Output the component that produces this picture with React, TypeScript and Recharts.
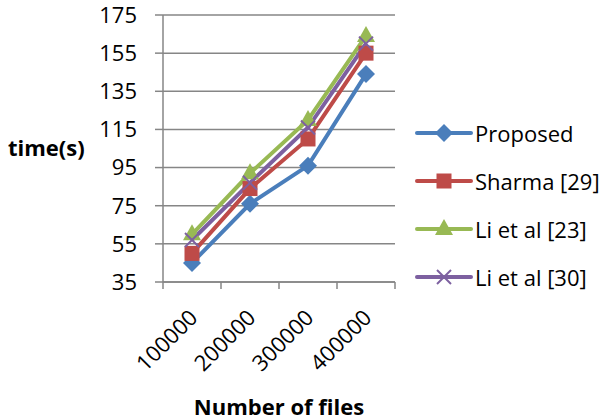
import React from 'react';
import {
  LineChart, Line, XAxis, YAxis, CartesianGrid,
} from 'recharts';

const fileCounts = [100000, 200000, 300000, 400000];
const proposed = [45, 76, 96, 144];
const sharma = [50, 84, 110, 155];
const liEtAl23 = [60, 92, 120, 164];
const liEtAl30 = [57, 87, 116, 160];

const yTicks = [35, 55, 75, 95, 115, 135, 155, 175];
// category boundaries sit halfway between the file counts
const xTicks = [50000, 100000, 150000, 200000, 250000, 300000, 350000, 400000, 450000];

const series = [
  { key: 'proposed', name: 'Proposed', color: '#4A7EBB', shape: 'diamond' },
  { key: 'sharma', name: 'Sharma [29]', color: '#BE4B48', shape: 'square' },
  { key: 'li23', name: 'Li et al [23]', color: '#98B954', shape: 'triangle' },
  { key: 'li30', name: 'Li et al [30]', color: '#7D60A0', shape: 'cross' },
];

const data = fileCounts.map((files, i) => ({
  files,
  proposed: proposed[i],
  sharma: sharma[i],
  li23: liEtAl23[i],
  li30: liEtAl30[i],
}));

const FONT = '"Open Sans", sans-serif';
const FONT_SIZE = 22;
const AXIS = '#868686';

function Marker({ cx, cy, shape, color }: { cx: number; cy: number; shape: string; color: string }) {
  if (shape === 'diamond') {
    return <polygon points={`${cx},${cy - 9} ${cx + 9},${cy} ${cx},${cy + 9} ${cx - 9},${cy}`} fill={color} />;
  }
  if (shape === 'square') {
    return <rect x={cx - 7.5} y={cy - 7.5} width={15} height={15} fill={color} />;
  }
  if (shape === 'triangle') {
    return <polygon points={`${cx},${cy - 10} ${cx + 9},${cy + 6} ${cx - 9},${cy + 6}`} fill={color} />;
  }
  return (
    <g stroke={color} strokeWidth={2}>
      <line x1={cx - 7} y1={cy - 7} x2={cx + 7} y2={cy + 7} />
      <line x1={cx - 7} y1={cy + 7} x2={cx + 7} y2={cy - 7} />
    </g>
  );
}

function FileTick({ x, y, payload }: any) {
  const v = payload.value;
  if (v % 100000 !== 0) {
    return <line x1={x} x2={x} y1={y} y2={y + 7} stroke={AXIS} strokeWidth={1.5} />;
  }
  const tx = x + 7;
  const ty = y + 37;
  return (
    <text x={tx} y={ty} transform={`rotate(-45 ${tx} ${ty})`} textAnchor="end"
      fontFamily={FONT} fontSize={FONT_SIZE} fill="#000">
      {v}
    </text>
  );
}

function SeriesLegend() {
  return (
    <div style={{ position: 'absolute', left: 414, top: 109, fontFamily: FONT, fontSize: FONT_SIZE, color: '#000' }}>
      {series.map((s) => (
        <div key={s.key} style={{ display: 'flex', alignItems: 'center', height: 48 }}>
          <svg width={60} height={24}>
            <line x1={3} x2={57} y1={12} y2={12} stroke={s.color} strokeWidth={4} strokeLinecap="round" />
            <Marker cx={30} cy={12} shape={s.shape} color={s.color} />
          </svg>
          <span style={{ marginLeft: 1, whiteSpace: 'nowrap' }}>{s.name}</span>
        </div>
      ))}
    </div>
  );
}

export default function App() {
  return (
    <div style={{ position: 'absolute', left: 0, top: 0, width: 608, height: 420, background: '#fff' }}>
      <LineChart width={608} height={420} data={data}
        margin={{ top: 15, right: 213, bottom: 0, left: 0 }}>
        <CartesianGrid vertical={false} stroke={AXIS} strokeWidth={1.5} />
        <XAxis dataKey="files" type="number" domain={[50000, 450000]} ticks={xTicks} interval={0}
          height={138} tickLine={false} tickSize={0} tickMargin={0} tick={<FileTick />}
          axisLine={{ stroke: AXIS, strokeWidth: 1.5 }}
          label={{ value: 'Number of files', position: 'insideBottom', offset: 5, fontFamily: FONT, fontSize: FONT_SIZE, fontWeight: 700, fill: '#000' }} />
        <YAxis domain={[35, 175]} ticks={yTicks} interval={0} width={163}
          tickSize={8} tickMargin={18} tickLine={{ stroke: AXIS, strokeWidth: 1.5 }}
          axisLine={{ stroke: AXIS, strokeWidth: 1.5 }}
          tick={{ fontFamily: FONT, fontSize: FONT_SIZE, fill: '#000' }}
          label={{ value: 'time(s)', position: 'insideLeft', offset: 8, fontFamily: FONT, fontSize: FONT_SIZE, fontWeight: 700, fill: '#000' }} />
        {series.map((s) => (
          <Line key={s.key} dataKey={s.key} name={s.name} stroke={s.color} strokeWidth={4}
            isAnimationActive={false}
            dot={(p: any) => <Marker key={`${s.key}-${p.index}`} cx={p.cx} cy={p.cy} shape={s.shape} color={s.color} />} />
        ))}
      </LineChart>
      <SeriesLegend />
    </div>
  );
}
